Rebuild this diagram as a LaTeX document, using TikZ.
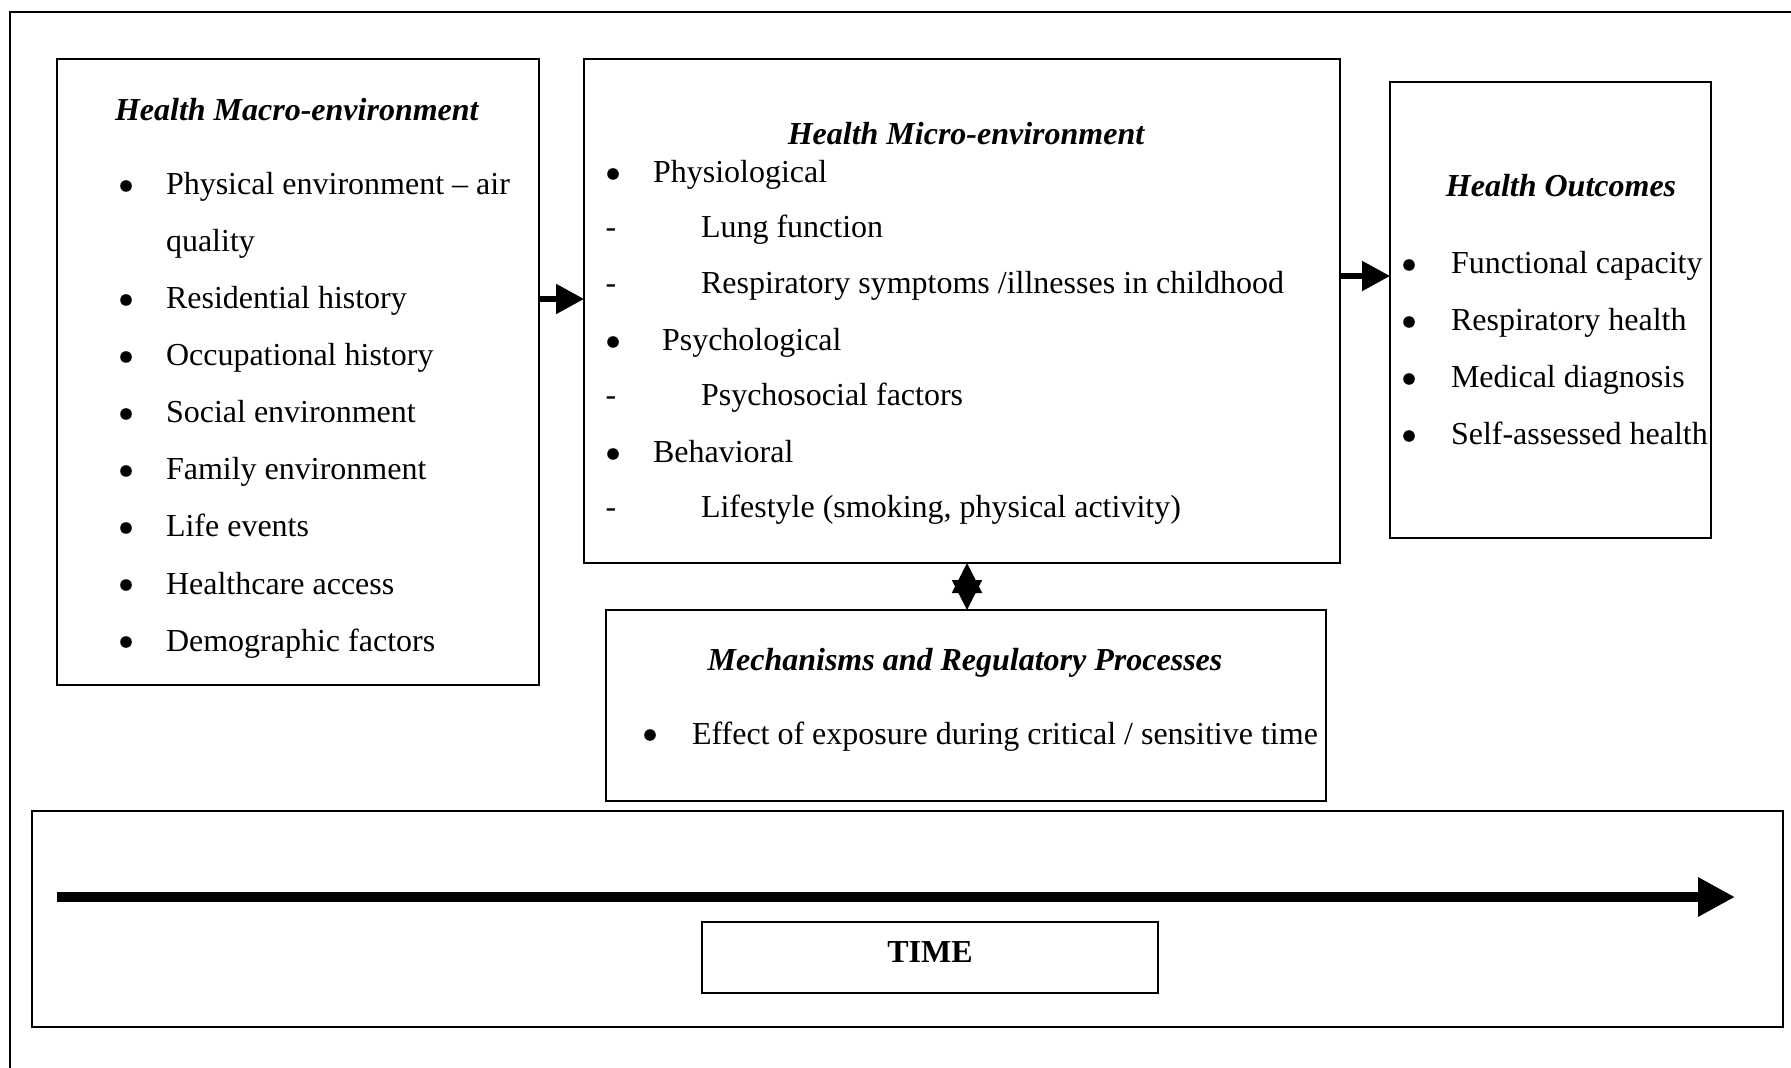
\documentclass[tikz,border=0pt]{standalone}
\usepackage{fontspec}
\setmainfont{Liberation Serif}
\usetikzlibrary{arrows.meta,fit}

\begin{document}
\begin{tikzpicture}[x=0.5pt,y=-0.5pt,
  every node/.style={inner sep=0pt, outer sep=0pt},
  frame/.style={draw, line width=1pt},
  box/.style={draw, line width=1pt, inner sep=0pt},
  txt/.style={anchor=base west, font=\fontsize{16}{19}\selectfont},
  dsh/.style={anchor=base, font=\fontsize{16}{19}\selectfont},
  dot/.style={circle, fill, minimum size=5.8pt},
  head/.style={anchor=base, font=\fontsize{16}{19}\selectfont\bfseries\itshape},
  flow/.style={line width=2.6pt, -{Triangle[length=14pt,width=14.5pt]}},
  dflow/.style={line width=1pt, {Triangle[length=15pt,width=15pt]}-{Triangle[length=15pt,width=15pt]}},
  timeflow/.style={line width=4.6pt, -{Triangle[length=18.5pt,width=18.5pt]}}
]
\useasboundingbox (0,0) rectangle (1791,1068);

% outer frame (top and left edges)
\draw[frame] (10,1068) -- (10,12) -- (1791,12);

% ---- Health macro-environment ----
\node[box, fit={(57,59) (539,685)}] (macro) {};
\node[head, anchor=base west] (macroH) at (115,121) {Health Macro-environment};
\node[dot] (mb1) at (126,186) {};
\node[txt] (mt1) at (166,195) {Physical environment – air};
\node[txt] (mt1b) at (166,252) {quality};
\node[dot] (mb2) at (126,300) {};
\node[txt] (mt2) at (166,309) {Residential history};
\node[dot] (mb3) at (126,357) {};
\node[txt] (mt3) at (166,366) {Occupational history};
\node[dot] (mb4) at (126,414) {};
\node[txt] (mt4) at (166,423) {Social environment};
\node[dot] (mb5) at (126,471) {};
\node[txt] (mt5) at (166,480) {Family environment};
\node[dot] (mb6) at (126,528) {};
\node[txt] (mt6) at (166,537) {Life events};
\node[dot] (mb7) at (126,585) {};
\node[txt] (mt7) at (166,594) {Healthcare access};
\node[dot] (mb8) at (126,642) {};
\node[txt] (mt8) at (166,651) {Demographic factors};

% ---- Health micro-environment ----
\node[box, fit={(584,59) (1340,563)}] (micro) {};
\node[head] (microH) at (966,145) {Health Micro-environment};
\node[dot] (ib1) at (613,174) {};
\node[txt] (it1) at (653,183) {Physiological};
\node[dsh] (id1) at (611,238) {-};
\node[txt] (it2) at (701,238) {Lung function};
\node[dsh] (id2) at (611,294) {-};
\node[txt] (it3) at (701,294) {Respiratory symptoms /illnesses in childhood};
\node[dot] (ib2) at (613,342) {};
\node[txt] (it4) at (662,351) {Psychological};
\node[dsh] (id3) at (611,406) {-};
\node[txt] (it5) at (701,406) {Psychosocial factors};
\node[dot] (ib3) at (613,454) {};
\node[txt] (it6) at (653,463) {Behavioral};
\node[dsh] (id4) at (611,518) {-};
\node[txt] (it7) at (701,518) {Lifestyle (smoking, physical activity)};

% ---- Health outcomes ----
\node[box, fit={(1390,82) (1711,538)}] (outc) {};
\node[head] (outcH) at (1561,197) {Health Outcomes};
\node[dot] (ob1) at (1409,265) {};
\node[txt] (ot1) at (1451,274) {Functional capacity};
\node[dot] (ob2) at (1409,322) {};
\node[txt] (ot2) at (1451,331) {Respiratory health};
\node[dot] (ob3) at (1409,379) {};
\node[txt] (ot3) at (1451,388) {Medical diagnosis};
\node[dot] (ob4) at (1409,436) {};
\node[txt] (ot4) at (1451,445) {Self-assessed health};

% ---- Mechanisms and regulatory processes ----
\node[box, fit={(606,610) (1326,801)}] (mech) {};
\node[head] (mechH) at (965,670) {Mechanisms and Regulatory Processes};
\node[dot] (eb1) at (650,735) {};
\node[txt] (et1) at (692,744) {Effect of exposure during critical / sensitive time};

% ---- Time ----
\node[box, fit={(32,811) (1783,1027)}] (timebox) {};
\node[box, fit={(702,922) (1158,993)}] (timelab) {};
\node[font=\fontsize{16}{19}\selectfont\bfseries] (timetxt) at (930,952) {TIME};
\coordinate (tstart) at (57,897);
\coordinate (tend) at (1735,897);
\draw[timeflow] (tstart) -- (tend);

% ---- connectors ----
\coordinate (r1) at (0,299);
\coordinate (r2) at (0,276);
\coordinate (c1) at (967,0);
\draw[flow] (macro.east |- r1) -- (micro.west |- r1);
\draw[flow] (micro.east |- r2) -- (outc.west |- r2);
\draw[dflow] (micro.south -| c1) -- (mech.north -| c1);
\end{tikzpicture}
\end{document}
